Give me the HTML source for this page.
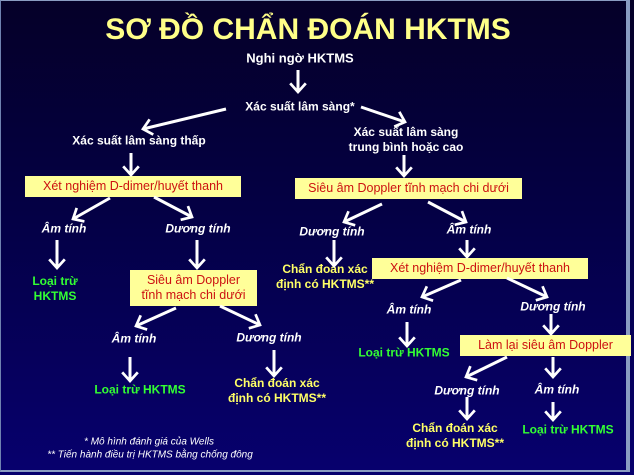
<!DOCTYPE html>
<html><head><meta charset="utf-8"><style>
html,body{margin:0;padding:0;}
body{width:634px;height:475px;overflow:hidden;position:relative;background:linear-gradient(#050028 0%,#040045 45%,#07006e 100%);font-family:"Liberation Sans",Arial,sans-serif;}
.frame{position:absolute;left:0;top:0;width:630px;height:472px;border-top:1px solid #8a9cc2;border-left:1px solid #6f82b0;border-bottom:2px solid #8a9cc2;border-right:4px solid #8a9cc2;box-sizing:border-box;}
.t{position:absolute;transform:translate(-50%,-50%);white-space:nowrap;font-weight:bold;font-size:12px;color:#fff;line-height:15px;text-align:center;}
.i{font-style:italic;}
.g{color:#33ff33;}
.y{color:#ffff66;}
.box{position:absolute;background:#ffff99;color:#cc1111;font-size:12.5px;display:flex;align-items:center;justify-content:center;text-align:center;line-height:15px;white-space:nowrap;}
svg{position:absolute;left:0;top:0;}
</style></head><body>
<div class="frame"></div>
<div class="t" style="left:308px;top:30px;font-size:30px;line-height:34px;color:#ffff88;">SƠ ĐỒ CHẨN ĐOÁN HKTMS</div>
<div class="t" style="left:300px;top:58px;font-size:13px;">Nghi ngờ HKTMS</div>
<div class="t" style="left:300px;top:107px;">Xác suất lâm sàng*</div>
<div class="t" style="left:139px;top:141px;">Xác suất lâm sàng thấp</div>
<div class="t" style="left:406px;top:140px;">Xác suất lâm sàng<br>trung bình hoặc cao</div>

<div class="box" style="left:25px;top:176px;width:216px;height:21px;">Xét nghiệm D-dimer/huyết thanh</div>
<div class="box" style="left:295px;top:178px;width:227px;height:21px;">Siêu âm Doppler tĩnh mạch chi dưới</div>
<div class="box" style="left:130px;top:270px;width:127px;height:36px;">Siêu âm Doppler<br>tĩnh mạch chi dưới</div>
<div class="box" style="left:372px;top:258px;width:216px;height:21px;">Xét nghiệm D-dimer/huyết thanh</div>
<div class="box" style="left:460px;top:335px;width:171px;height:21px;">Làm lại siêu âm Doppler</div>

<div class="t i" style="left:64px;top:229px;">Âm tính</div>
<div class="t i" style="left:198px;top:229px;">Dương tính</div>
<div class="t i" style="left:332px;top:232px;">Dương tính</div>
<div class="t i" style="left:469px;top:230px;">Âm tính</div>

<div class="t g" style="left:55px;top:289px;">Loại trừ<br>HKTMS</div>
<div class="t y" style="left:325px;top:277px;">Chẩn đoán xác<br>định có HKTMS**</div>

<div class="t i" style="left:134px;top:339px;">Âm tính</div>
<div class="t i" style="left:269px;top:338px;">Dương tính</div>
<div class="t g" style="left:140px;top:390px;">Loại trừ HKTMS</div>
<div class="t y" style="left:277px;top:391px;">Chẩn đoán xác<br>định có HKTMS**</div>

<div class="t i" style="left:409px;top:310px;">Âm tính</div>
<div class="t i" style="left:553px;top:307px;">Dương tính</div>
<div class="t g" style="left:404px;top:353px;">Loại trừ HKTMS</div>

<div class="t i" style="left:467px;top:391px;">Dương tính</div>
<div class="t i" style="left:557px;top:390px;">Âm tính</div>
<div class="t y" style="left:455px;top:436px;">Chẩn đoán xác<br>định có HKTMS**</div>
<div class="t g" style="left:568px;top:430px;">Loại trừ HKTMS</div>

<div class="t i" style="left:149px;top:442px;font-weight:normal;font-size:10px;">* Mô hình đánh giá của Wells</div>
<div class="t i" style="left:150px;top:455px;font-weight:normal;font-size:10px;">** Tiến hành điều trị HKTMS bằng chống đông</div>

<svg width="634" height="475" viewBox="0 0 634 475">
<defs><marker id="a" markerWidth="4" markerHeight="6" refX="3.2" refY="3" orient="auto" markerUnits="strokeWidth"><polyline points="0.3,0.4 3.2,3 0.3,5.6" fill="none" stroke="#fff" stroke-width="0.9"/></marker></defs>
<g stroke="#fff" stroke-width="3" fill="none" marker-end="url(#a)">
<line x1="298" y1="70" x2="298" y2="92"/>
<line x1="226" y1="109" x2="143" y2="129"/>
<line x1="361" y1="107" x2="405" y2="122"/>
<line x1="131" y1="153" x2="131" y2="175"/>
<line x1="404" y1="155" x2="404" y2="176"/>
<line x1="110" y1="198" x2="73" y2="219"/>
<line x1="154" y1="197" x2="192" y2="217"/>
<line x1="382" y1="204" x2="344" y2="222"/>
<line x1="428" y1="202" x2="466" y2="222"/>
<line x1="57" y1="240" x2="57" y2="268"/>
<line x1="197" y1="240" x2="197" y2="268"/>
<line x1="334" y1="240" x2="334" y2="266"/>
<line x1="467" y1="240" x2="467" y2="257"/>
<line x1="176" y1="308" x2="136" y2="326"/>
<line x1="220" y1="306" x2="260" y2="325"/>
<line x1="130" y1="357" x2="130" y2="381"/>
<line x1="274" y1="350" x2="274" y2="376"/>
<line x1="461" y1="280" x2="422" y2="297"/>
<line x1="507" y1="278" x2="547" y2="297"/>
<line x1="407" y1="322" x2="407" y2="346"/>
<line x1="551" y1="314" x2="551" y2="334"/>
<line x1="507" y1="357" x2="466" y2="377"/>
<line x1="553" y1="357" x2="553" y2="377"/>
<line x1="467" y1="397" x2="467" y2="419"/>
<line x1="553" y1="402" x2="553" y2="420"/>
</g>
</svg>
</body></html>
